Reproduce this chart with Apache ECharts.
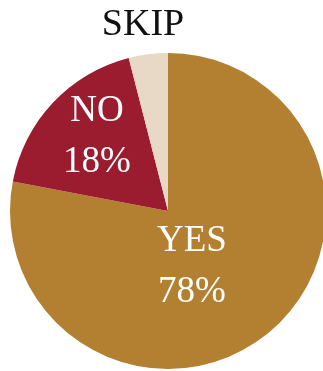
<!DOCTYPE html>
<html>
<head>
<meta charset="utf-8">
<style>
  html, body { margin: 0; padding: 0; background: #ffffff; }
  #chart { width: 323px; height: 371px; }
</style>
<script src="https://cdn.jsdelivr.net/npm/echarts@6/dist/echarts.min.js"></script>
</head>
<body>
<div id="chart"></div>
<script>
// Survey answers and their shares (percent)
const categories = ['YES', 'NO', 'SKIP'];
const shares = [78, 18, 4];
const sliceColors = ['#b38031', '#9b1b2f', '#e7d9c5'];

// Where each slice's caption sits, and its colour
const labelSpots = [
  { x: 192, y: 267, color: '#ffffff', twoLines: true, size: 37 },
  { x: 97, y: 137, color: '#ffffff', twoLines: true, size: 37 },
  { x: 143, y: 25, color: '#111111', twoLines: false, size: 38 }
];

const chart = echarts.init(document.getElementById('chart'), null, { renderer: 'canvas' });

chart.setOption({
  animation: false,
  series: [{
    type: 'pie',
    center: [168, 211],
    radius: 158,
    startAngle: 90,
    clockwise: true,
    silent: true,
    itemStyle: { borderWidth: 0 },
    labelLine: { show: false },
    label: {
      show: true,
      position: 'inside',
      fontFamily: 'Liberation Serif, serif',
      lineHeight: 51,
      formatter: function (p) {
        return labelSpots[p.dataIndex].twoLines ? p.name + '\n' + p.value + '%' : p.name;
      }
    },
    labelLayout: function (p) {
      const s = labelSpots[p.dataIndex];
      return { x: s.x, y: s.y, align: 'center', verticalAlign: 'middle' };
    },
    data: categories.map(function (name, i) {
      return {
        name: name,
        value: shares[i],
        itemStyle: { color: sliceColors[i] },
        label: { color: labelSpots[i].color, fontSize: labelSpots[i].size }
      };
    })
  }]
});
</script>
</body>
</html>
